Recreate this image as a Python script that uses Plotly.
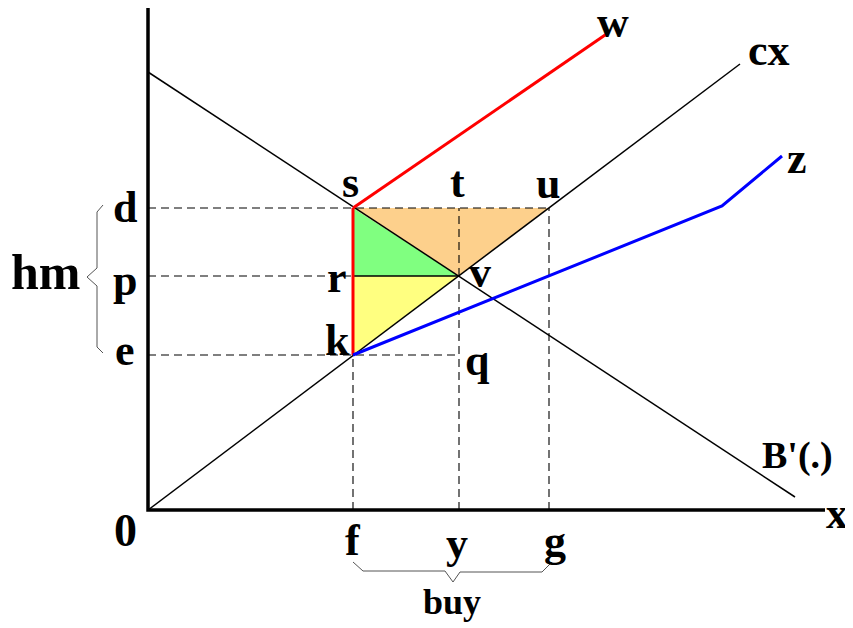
import plotly.graph_objects as go

# key quantities (x along horizontal axis, y along vertical axis)
x_f, x_y, x_g = 205, 311, 401
y_d, y_p, y_e = 302, 234, 155

# curves
bprime_x = [0, 647]
bprime_y = [438, 13]
cx_x = [0, 592]
cx_y = [0, 446]
w_x = [x_f, 460]
w_y = [y_d, 477]
z_x = [x_f, 574, 634]
z_y = [y_e, 304, 354]

axis_x_end = 677
axis_y_end = 503

BLACK = "#000000"
LABEL_FONT = "Liberation Serif"

fig = go.Figure()

# shaded triangles
fig.add_trace(go.Scatter(x=[x_f, x_g, x_y, x_f], y=[y_d, y_d, y_p, y_d], fill="toself",
                         fillcolor="#FDD08C", line=dict(width=0), mode="lines", hoverinfo="skip"))
fig.add_trace(go.Scatter(x=[x_f, x_y, x_f, x_f], y=[y_d, y_p, y_p, y_d], fill="toself",
                         fillcolor="#80FF80", line=dict(width=0), mode="lines", hoverinfo="skip"))
fig.add_trace(go.Scatter(x=[x_f, x_y, x_f, x_f], y=[y_p, y_p, y_e, y_p], fill="toself",
                         fillcolor="#FFFF80", line=dict(width=0), mode="lines", hoverinfo="skip"))

# dashed guides
dash = dict(color=BLACK, width=1.1, dash="8px,5px")
for xs, ys in [([0, x_g], [y_d, y_d]), ([0, x_f], [y_p, y_p]), ([0, x_y], [y_e, y_e]),
               ([x_f, x_f], [0, y_e]), ([x_y, x_y], [0, y_d]), ([x_g, x_g], [0, y_d])]:
    fig.add_trace(go.Scatter(x=xs, y=ys, mode="lines", line=dash, hoverinfo="skip"))

# r - v segment
fig.add_trace(go.Scatter(x=[x_f, x_y], y=[y_p, y_p], mode="lines", line=dict(color=BLACK, width=1.3)))

# demand and cost lines
fig.add_trace(go.Scatter(x=bprime_x, y=bprime_y, mode="lines", line=dict(color=BLACK, width=1.5)))
fig.add_trace(go.Scatter(x=cx_x, y=cx_y, mode="lines", line=dict(color=BLACK, width=1.5)))

# red and blue schedules
fig.add_trace(go.Scatter(x=w_x, y=w_y, mode="lines", line=dict(color="#FF0000", width=3)))
fig.add_trace(go.Scatter(x=[x_f, x_f], y=[y_e, y_d], mode="lines", line=dict(color="#FF0000", width=3)))
fig.add_trace(go.Scatter(x=z_x, y=z_y, mode="lines", line=dict(color="#0000FF", width=3)))

# axes
fig.add_trace(go.Scatter(x=[0, 0, axis_x_end], y=[axis_y_end, 0, 0], mode="lines",
                         line=dict(color=BLACK, width=3.5)))

# braces
brace = dict(color="#555555", width=1)
fig.add_trace(go.Scatter(x=[-45, -51, -51, -61, -51, -51, -45],
                         y=[305, 298, 242, 233, 224, 163, 157], mode="lines", line=brace))
fig.add_trace(go.Scatter(x=[205, 215, 297, 305, 312, 394, 404],
                         y=[-52, -61, -61, -72, -62, -62, -52], mode="lines", line=brace))

labels = [
    ("w", 465, 488, 44), ("cx", 621, 460, 44), ("z", 649, 352, 44),
    ("s", 202, 328, 44), ("t", 309, 328, 44), ("u", 400, 327, 44),
    ("d", -23, 303, 44), ("p", -23, 230, 44), ("e", -23, 160, 44),
    ("hm", -103, 238, 50), ("r", 189, 233, 44), ("v", 332, 238, 44),
    ("k", 189, 170, 44), ("q", 329, 150, 44), ("B'(.)", 649, 55, 38),
    ("0", -23, -20, 46), ("x", 689, -3, 44), ("f", 205, -30, 44),
    ("y", x_y - 2, -33, 44), ("g", 407, -31, 44), ("buy", 304, -92, 36),
]
for text, lx, ly, size in labels:
    fig.add_annotation(x=lx, y=ly, text=text, showarrow=False,
                       font=dict(family=LABEL_FONT, size=size, color=BLACK, weight="bold"))

# page body keeps an 8px margin, so the figure is 8px smaller each way
fig.update_layout(
    width=845, height=620,
    margin=dict(l=0, r=0, t=0, b=0),
    paper_bgcolor="white", plot_bgcolor="white",
    showlegend=False,
    xaxis=dict(range=[-140, 705], visible=False, fixedrange=True),
    yaxis=dict(range=[-118, 502], visible=False, fixedrange=True),
)

fig.write_html("out.html")
